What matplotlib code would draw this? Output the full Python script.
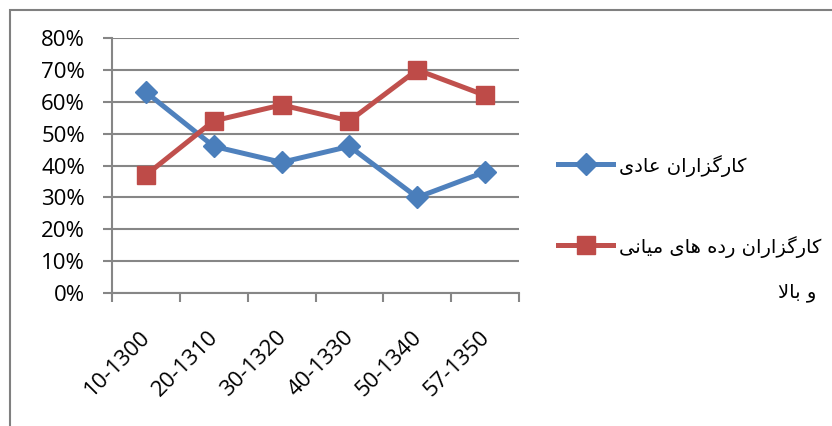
import numpy as np
import matplotlib.pyplot as plt
from matplotlib.patches import Rectangle
from matplotlib.lines import Line2D
from matplotlib.transforms import ScaledTranslation

periods = ["10-1300", "20-1310", "30-1320", "40-1330", "50-1340", "57-1350"]
ordinary = [63, 46, 41, 46, 30, 38]
middle_upper = [37, 54, 59, 54, 70, 62]

# legend labels in visual (pre-shaped, left-to-right) order
label_ordinary = "\uFEEF\uFEA9\uFE8E\uFECB \uFEE5\uFE8D\uFEAD\uFE8D\uFEB0\uFB94\uFEAD\uFE8E\uFB90"
label_middle_1 = ("\uFEF0\uFEE7\uFE8E\uFEF4\uFEE3 \uFEEF\uFE8E\uFEEB \uFEE9\uFEA9\uFEAD "
                  "\uFEE5\uFE8D\uFEAD\uFE8D\uFEB0\uFB94\uFEAD\uFE8E\uFB90")
label_middle_2 = "\uFEFB\uFE8E\uFE91 \uFEED"

BLUE = "#4F81BD"
RED = "#C0504D"
GRID = "#868686"

plt.rcParams['font.family'] = ['Open Sans', 'DejaVu Sans']

fig = plt.figure(figsize=(8.32, 4.26), dpi=100)
ax = fig.add_axes([112 / 832, 133 / 426, 407 / 832, 255 / 426])

x = np.arange(len(periods))
ax.plot(x, ordinary, color=BLUE, lw=3.6, marker='D', ms=11, mfc="#4A7EBB", mec="#4A7EBB", zorder=3)
ax.plot(x, middle_upper, color=RED, lw=3.6, marker='s', ms=13, mfc="#BE4B48", mec="#BE4B48", zorder=3)

ax.set_xlim(-0.5, len(periods) - 0.5)
ax.set_ylim(0, 80)
ax.set_yticks(np.arange(0, 81, 10))
ax.set_yticklabels([f"{v}%" for v in range(0, 81, 10)], fontsize=16)
ax.yaxis.grid(True, color=GRID, lw=1.5)
ax.set_axisbelow(True)

ax.set_xticks(np.arange(-0.5, len(periods), 1.0))
ax.set_xticklabels([])
ax.set_xticks(x, labels=periods, minor=True, fontsize=16)
ax.tick_params(axis='x', which='minor', length=0, pad=22)
ax.tick_params(axis='both', which='major', length=6.5, width=1.5, color=GRID)
ax.tick_params(axis='y', pad=13)
shift = ScaledTranslation(-6 / 100, -3 / 100, fig.dpi_scale_trans)
for lbl in ax.xaxis.get_minorticklabels():
    lbl.set(rotation=45, ha='right', va='top', rotation_mode='anchor')
    lbl.set_transform(lbl.get_transform() + shift)

for side in ['top', 'right']:
    ax.spines[side].set_visible(False)
for side in ['left', 'bottom']:
    ax.spines[side].set_color(GRID)
    ax.spines[side].set_linewidth(1.5)

# legend drawn by hand to keep the right-to-left wrapping
fig.add_artist(Line2D([558 / 832, 613 / 832], [1 - 164 / 426] * 2, color=BLUE, lw=3.6,
                      transform=fig.transFigure))
fig.add_artist(Line2D([585.5 / 832], [1 - 164 / 426], color=BLUE, marker='D', ms=11,
                      mfc="#4A7EBB", mec="#4A7EBB", transform=fig.transFigure))
fig.add_artist(Line2D([558 / 832, 613 / 832], [1 - 245 / 426] * 2, color=RED, lw=3.6,
                      transform=fig.transFigure))
fig.add_artist(Line2D([585.5 / 832], [1 - 245 / 426], color=RED, marker='s', ms=13,
                      mfc="#BE4B48", mec="#BE4B48", transform=fig.transFigure))
fig.text(619 / 832, 1 - 166 / 426, label_ordinary, family='DejaVu Sans', fontsize=14,
         ha='left', va='center')
fig.text(619 / 832, 1 - 247 / 426, label_middle_1, family='DejaVu Sans', fontsize=14,
         ha='left', va='center')
fig.text(816 / 832, 1 - 293 / 426, label_middle_2, family='DejaVu Sans', fontsize=14,
         ha='right', va='center')

# chart frame
fig.add_artist(Rectangle((10 / 832, -0.1), 1.0, 1.1 - 10 / 426, fill=False,
                         edgecolor="#808080", lw=1.5, transform=fig.transFigure))

fig.savefig("out.png", dpi=100)
